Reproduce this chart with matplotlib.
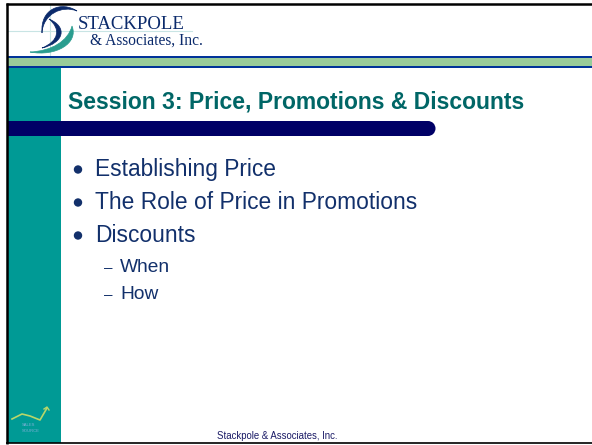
import matplotlib
matplotlib.use("Agg")
import matplotlib.pyplot as plt
from matplotlib.patches import Rectangle, Circle, PathPatch
from matplotlib.path import Path

title = "Session 3: Price, Promotions & Discounts"
bullets = ["Establishing Price", "The Role of Price in Promotions", "Discounts"]
sub_bullets = ["When", "How"]
company_top = "STACKPOLE"
company_bottom = "& Associates, Inc."
footer = "Stackpole & Associates, Inc."

W, H = 592, 445
fig = plt.figure(figsize=(W / 100, H / 100), dpi=100)
ax = fig.add_axes([0, 0, 1, 1])
ax.set_xlim(0, W)
ax.set_ylim(H, 0)
ax.axis("off")

SANS = ["Liberation Sans", "DejaVu Sans"]
SERIF = ["Liberation Serif", "DejaVu Serif"]

teal = "#009a95"
navy = "#000066"
text_blue = "#12306b"

# faint logo grid
ax.plot([8, 192], [31, 31], color="#c8e4e4", lw=0.8, zorder=1)
ax.plot([50, 50], [5, 56], color="#c8e4e4", lw=0.8, zorder=1)


def crescent(p0, c1, c2, p1, d1, d2):
    verts = [p0, c1, c2, p1, d1, d2, p0, p0]
    codes = [Path.MOVETO, Path.CURVE4, Path.CURVE4, Path.CURVE4,
             Path.CURVE4, Path.CURVE4, Path.CURVE4, Path.CLOSEPOLY]
    return Path(verts, codes)


logo_navy = "#0b2a6b"
logo_teal = "#2a9d8f"
ax.add_patch(PathPatch(crescent((77, 11), (62, 1), (40, 8), (42, 33), (43, 14), (62, 5)),
                       fc=logo_navy, ec=logo_navy, lw=0.5, zorder=3))
ax.add_patch(PathPatch(crescent((49, 19), (68, 27), (64, 43), (42, 48), (59, 41), (61, 29)),
                       fc=logo_navy, ec=logo_navy, lw=0.5, zorder=3))
ax.add_patch(PathPatch(crescent((72, 26), (79, 43), (56, 57), (30, 52), (52, 51), (68, 41)),
                       fc=logo_teal, ec=logo_teal, lw=0.5, zorder=2))

ax.text(78, 29, company_top, family=SERIF, fontsize=13.5, color=logo_navy, va="baseline", ha="left", zorder=4)
ax.text(90, 45, company_bottom, family=SERIF, fontsize=11.2, color=logo_navy, va="baseline", ha="left", zorder=4)

# band under the logo
ax.add_patch(Rectangle((7, 56), W - 7, 12, color="#003399", lw=0, zorder=2))
ax.add_patch(Rectangle((7, 58), W - 7, 8, color="#99cc99", lw=0, zorder=3))

# teal left column
ax.add_patch(Rectangle((8, 68), 53, 375, color=teal, lw=0, zorder=2))

# title
ax.text(68, 108, title, family=SANS, fontsize=16.5, fontweight="bold", color="#006666",
        va="baseline", ha="left", zorder=4)

# navy bar with rounded end
ax.add_patch(Rectangle((8, 121), 420, 15, color=navy, lw=0, zorder=4))
ax.add_patch(Circle((428, 128.5), 7.5, color=navy, lw=0, zorder=4))

# bullets
y0, dy = 176, 33
for i, b in enumerate(bullets):
    y = y0 + i * dy
    ax.add_patch(Circle((78, y - 6.5), 4.2, color=text_blue, lw=0, zorder=4))
    ax.text(95, y, b, family=SANS, fontsize=16.4, color=text_blue, va="baseline", ha="left", zorder=4)

sy0, sdy = 272, 27
for j, s in enumerate(sub_bullets):
    y = sy0 + j * sdy
    ax.text(104, y, "\u2013", family=SANS, fontsize=11, color=text_blue, va="baseline", ha="left", zorder=4)
    ax.text(120, y, s, family=SANS, fontsize=13.8, color=text_blue, va="baseline", ha="left", zorder=4)

# bottom-left small logo
ax.plot([12, 22, 30, 40, 47], [419, 414, 416, 420, 408], color="#b8d66a", lw=1.2, zorder=5)
ax.plot([44, 47, 49], [409, 407, 410], color="#b8d66a", lw=1.0, zorder=5)
ax.text(22, 426, "SALES", family=SANS, fontsize=3, color="#7fb0d8", va="baseline", zorder=5)
ax.text(22, 432, "SOURCE", family=SANS, fontsize=3, color="#7fb0d8", va="baseline", zorder=5)

# footer
ax.text(277, 439, footer, family=SANS, fontsize=6.9, color="#1a1a66", va="baseline", ha="center", zorder=4)

# frame lines
ax.plot([6, W], [4, 4], color="black", lw=1.8, zorder=6, solid_capstyle="butt")
ax.plot([7, 7], [3, 444], color="black", lw=1.8, zorder=6, solid_capstyle="butt")
ax.plot([6, W], [443.3, 443.3], color="black", lw=1.2, zorder=6, solid_capstyle="butt")

fig.savefig("out.png", dpi=100)
